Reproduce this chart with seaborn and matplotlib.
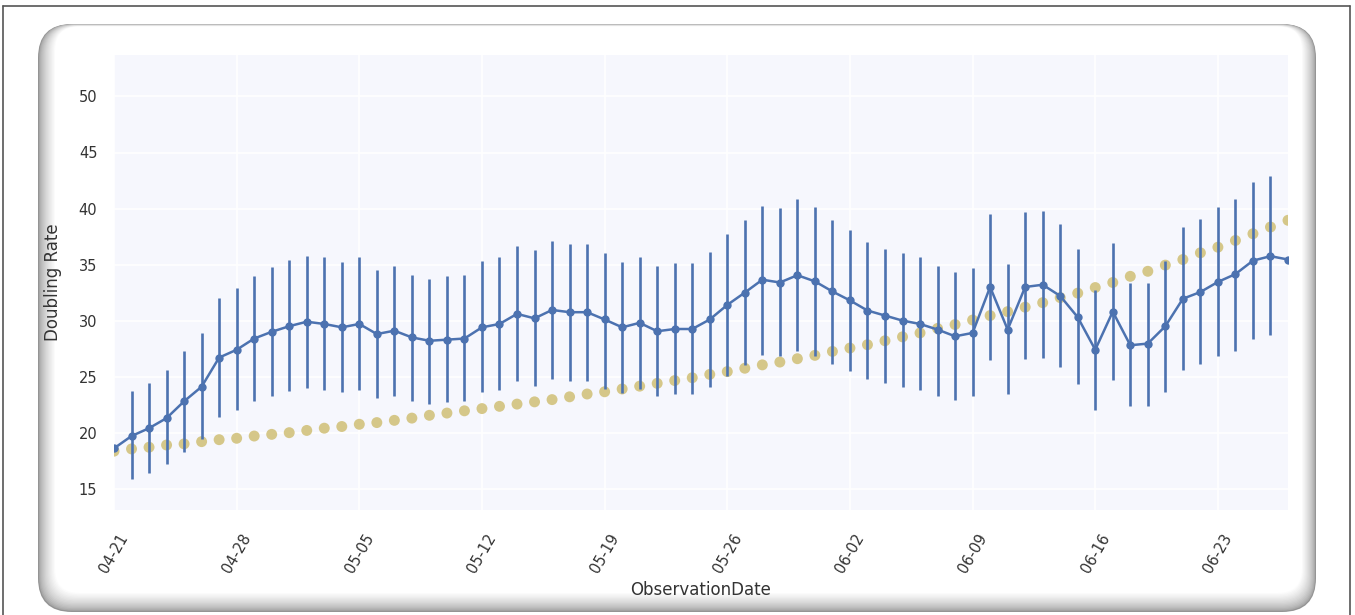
import pandas as pd
import numpy as np
import matplotlib
matplotlib.use("Agg")
import matplotlib.pyplot as plt
import matplotlib.dates as mdates
from matplotlib.patches import FancyBboxPatch
from matplotlib.lines import Line2D
import seaborn as sns

# Daily observation dates shown on the chart
dates = pd.date_range("2020-04-21", "2020-06-27", freq="D")

# Mean doubling rate (blue line)
doubling_rate = [
    18.6, 19.7, 20.4, 21.3, 22.8, 24.1, 26.7, 27.4, 28.4, 29.0,
    29.5, 29.9, 29.7, 29.4, 29.7, 28.8, 29.1, 28.5, 28.2, 28.3,
    28.4, 29.4, 29.7, 30.6, 30.2, 30.95, 30.75, 30.75, 30.1, 29.4,
    29.8, 29.05, 29.25, 29.25, 30.1, 31.4, 32.5, 33.65, 33.4, 34.05,
    33.5, 32.6, 31.8, 30.9, 30.45, 30.0, 29.7, 29.2, 28.6, 28.9,
    33.0, 29.2, 33.0, 33.2, 32.2, 30.3, 27.4, 30.8, 27.8, 27.95,
    29.5, 31.95, 32.55, 33.45, 34.15, 35.35, 35.75, 35.45,
]

# Error bar bounds, 04-22 .. 06-26
err_low = [
    15.9, 16.4, 17.2, 18.3, 19.4, 21.4, 22.0, 22.8, 23.3,
    23.75, 24.0, 23.8, 23.6, 23.8, 23.1, 23.3, 22.8, 22.6, 22.75,
    22.8, 23.6, 23.85, 24.65, 24.2, 24.8, 24.65, 24.65, 23.9, 23.55,
    23.9, 23.3, 23.45, 23.45, 24.1, 25.1, 26.05, 26.9, 26.8, 27.25,
    26.8, 26.15, 25.5, 24.8, 24.45, 24.1, 23.8, 23.3, 22.95, 23.25,
    26.45, 23.45, 26.6, 26.65, 25.85, 24.35, 22.05, 24.7, 22.35, 22.4,
    23.65, 25.6, 26.15, 26.8, 27.3, 28.35, 28.7,
]
err_high = [
    23.7, 24.4, 25.55, 27.3, 28.9, 32.0, 32.9, 34.0, 34.75,
    35.4, 35.8, 35.65, 35.25, 35.65, 34.55, 34.85, 34.1, 33.7, 33.95,
    34.05, 35.35, 35.65, 36.7, 36.3, 37.1, 36.85, 36.85, 36.05, 35.25,
    35.65, 34.85, 35.1, 35.1, 36.15, 37.75, 38.95, 40.25, 40.05, 40.85,
    40.15, 39.0, 38.1, 37.0, 36.4, 36.05, 35.65, 34.85, 34.35, 34.65,
    39.55, 35.05, 39.7, 39.75, 38.65, 36.4, 32.75, 36.9, 33.35, 33.4,
    35.3, 38.35, 39.1, 40.15, 40.85, 42.4, 42.9,
]

# Trend (yellow dots)
trend = [
    18.35, 18.55, 18.7, 18.9, 19.0, 19.2, 19.375, 19.5, 19.7, 19.85,
    20.0, 20.2, 20.4, 20.55, 20.75, 20.9, 21.1, 21.3, 21.55, 21.75,
    21.95, 22.15, 22.35, 22.55, 22.75, 22.95, 23.2, 23.45, 23.65, 23.9,
    24.15, 24.4, 24.65, 24.9, 25.2, 25.45, 25.75, 26.05, 26.3, 26.6,
    26.9, 27.25, 27.55, 27.85, 28.2, 28.55, 28.9, 29.3, 29.65, 30.05,
    30.45, 30.8, 31.2, 31.6, 32.05, 32.45, 32.95, 33.4, 33.95, 34.4,
    34.95, 35.45, 36.05, 36.55, 37.15, 37.75, 38.35, 38.95,
]

df = pd.DataFrame({"ObservationDate": dates, "Doubling Rate": doubling_rate, "trend": trend})
err_dates = dates[1:-1]

sns.set_theme(style="darkgrid", rc={
    "axes.facecolor": "#f6f7fd",
    "grid.color": "white",
    "grid.linewidth": 1.2,
})
plt.rcParams["font.family"] = ["DejaVu Sans"]

W, H = 1355, 615
fig = plt.figure(figsize=(W / 100, H / 100), dpi=100)
fig.patch.set_facecolor("white")

# background frame (screenshot look)
bg = fig.add_axes([0, 0, 1, 1], zorder=-5)
bg.set_xlim(0, W)
bg.set_ylim(H, 0)
bg.axis("off")
n = 16
for i in range(n):
    t = i / (n - 1)
    g = 0.58 + 0.42 * t ** 0.6
    left = 38 + 17 * t
    right = 1316 - 14 * t
    top = 24 + 2.5 * t
    bottom = 612 - 19 * t
    r = 34 - 10 * t
    bg.add_patch(FancyBboxPatch((left + r, top + r), right - left - 2 * r, bottom - top - 2 * r,
                                boxstyle=f"round,pad={r}", fc=(g, g, g), ec="none"))
bg.add_line(Line2D([3, 1350], [6, 6], color="#555555", lw=1.2))
bg.add_line(Line2D([3, 3], [6, H], color="#555555", lw=1.2))
bg.add_line(Line2D([1350, 1350], [6, H], color="#555555", lw=1.2))

ax = fig.add_axes([114 / W, (H - 510) / H, (1288 - 114) / W, (510 - 55) / H])

sns.scatterplot(data=df, x="ObservationDate", y="trend", color="#d2c27c", alpha=0.9,
                s=62, edgecolor="none", ax=ax, zorder=2)
ax.vlines(err_dates, err_low, err_high, color="#4c72b0", lw=1.9, zorder=3)
sns.lineplot(data=df, x="ObservationDate", y="Doubling Rate", color="#4c72b0",
             marker="o", markersize=6, markeredgewidth=0, lw=1.8, ax=ax, zorder=4)

ax.set_xlim(dates[0], dates[-1])
ax.set_ylim(13.1, 53.7)
ax.set_yticks([15, 20, 25, 30, 35, 40, 45, 50])
ax.set_xticks(pd.date_range("2020-04-21", "2020-06-23", freq="7D"))
ax.xaxis.set_major_formatter(mdates.DateFormatter("%m-%d"))
plt.setp(ax.get_xticklabels(), rotation=60)
ax.tick_params(axis="both", length=0, labelsize=10.5, colors="#333333")
ax.tick_params(axis="y", pad=12)
ax.tick_params(axis="x", pad=15)
ax.set_xlabel("ObservationDate", fontsize=12, color="#333333", labelpad=4)
ax.set_ylabel("Doubling Rate", fontsize=12, color="#333333", labelpad=12)
for s in ax.spines.values():
    s.set_visible(False)

fig.savefig("out.png", dpi=100)
